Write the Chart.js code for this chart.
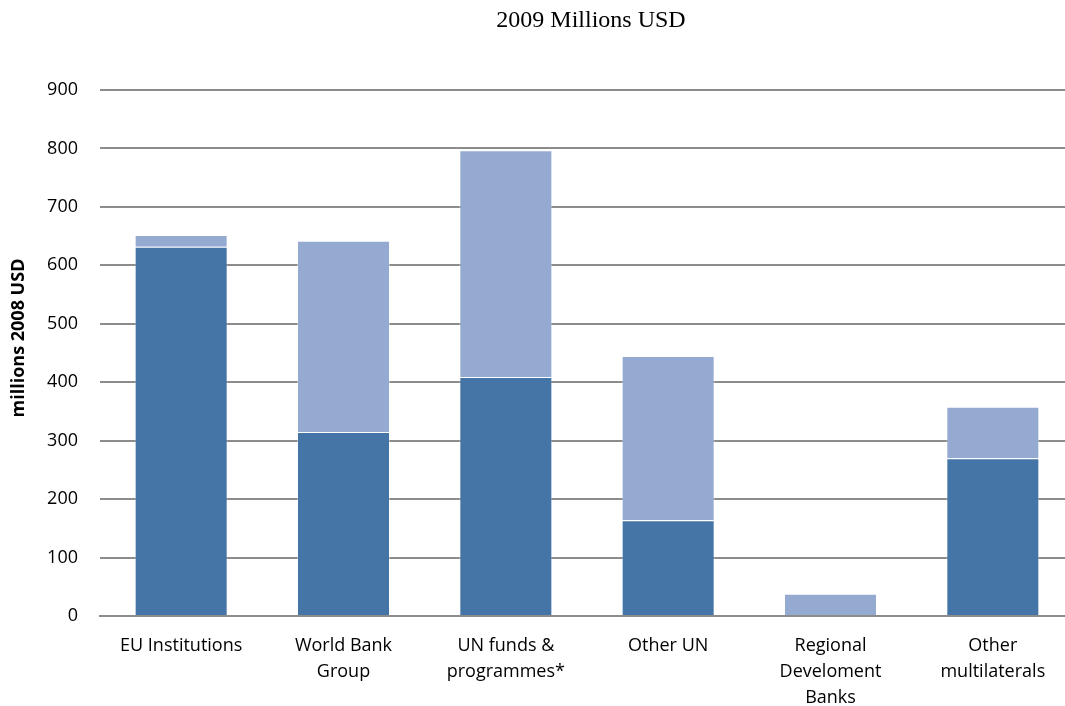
<!DOCTYPE html>
<html>
<head>
<meta charset="utf-8">
<script src="https://cdn.jsdelivr.net/npm/chart.js@4"></script>
<style>
  html, body { margin: 0; padding: 0; background: #fff; overflow: hidden; }
  #wrap { width: 1074px; height: 706px; }
</style>
</head>
<body>
<div id="wrap"><canvas id="chart" width="1074" height="706"></canvas></div>
<script>
// ---------- DATA ----------
const categories = [
  "EU Institutions",
  ["World Bank", "Group"],
  ["UN funds &", "programmes*"],
  "Other UN",
  ["Regional", "Develoment", "Banks"],
  ["Other", "multilaterals"]
];
const lowerPart = [632, 315, 409, 164, 0, 270];
const upperPart = [20, 327, 388, 281, 38, 88];
const yTicks = [0, 100, 200, 300, 400, 500, 600, 700, 800, 900];
const chartTitle = "2009 Millions USD";
const yTitle = "millions 2008 USD";

const sans = "'Open Sans', 'Noto Sans', sans-serif";

// ---------- TITLES ----------
// chart title centred over the plot area, y title left of ticks
const titles = {
  id: "titles",
  afterDraw(chart) {
    const ctx = chart.ctx;
    const area = chart.chartArea;
    ctx.save();
    ctx.fillStyle = "#000";
    ctx.textAlign = "center";
    ctx.textBaseline = "middle";
    ctx.font = "24px 'Liberation Serif', serif";
    ctx.fillText(chartTitle, (area.left + area.right) / 2 + 4, 21);
    ctx.translate(19, 338);
    ctx.rotate(-Math.PI / 2);
    ctx.font = "bold 18px " + sans;
    ctx.fillText(yTitle, 0, 0);
    ctx.restore();
  }
};

// ---------- CHART ----------
new Chart(document.getElementById("chart"), {
  type: "bar",
  data: {
    labels: categories,
    datasets: [
      {
        label: "lower",
        data: lowerPart,
        backgroundColor: "#4574a7",
        borderColor: "rgba(255,255,255,0.35)",
        borderWidth: 1,
        categoryPercentage: 1,
        barPercentage: 0.573
      },
      {
        label: "upper",
        data: upperPart,
        backgroundColor: "#95aad1",
        borderColor: "rgba(255,255,255,0.35)",
        borderWidth: 1,
        categoryPercentage: 1,
        barPercentage: 0.573
      }
    ]
  },
  options: {
    responsive: false,
    animation: false,
    layout: { padding: { top: 90, right: 0, bottom: 0, left: 0 } },
    plugins: {
      legend: { display: false },
      tooltip: { enabled: false },
      title: { display: false }
    },
    scales: {
      x: {
        stacked: true,
        grid: { display: false, drawTicks: false },
        border: { display: true, color: "#8c8c8c", width: 2 },
        ticks: {
          color: "#000",
          font: { family: sans, size: 18, lineHeight: 1.45 },
          padding: 17,
          maxRotation: 0,
          autoSkip: false
        },
        afterFit: s => { s.height = 90; }
      },
      y: {
        stacked: true,
        min: 0,
        max: 900,
        afterBuildTicks: s => { s.ticks = yTicks.map(v => ({ value: v })); },
        grid: { color: "#8c8c8c", lineWidth: 2, drawTicks: false },
        border: { display: false },
        ticks: {
          color: "#000",
          font: { family: sans, size: 18 },
          padding: 22
        },
        afterFit: s => { s.width = 100; }
      }
    }
  },
  plugins: [titles]
});
</script>
</body>
</html>
